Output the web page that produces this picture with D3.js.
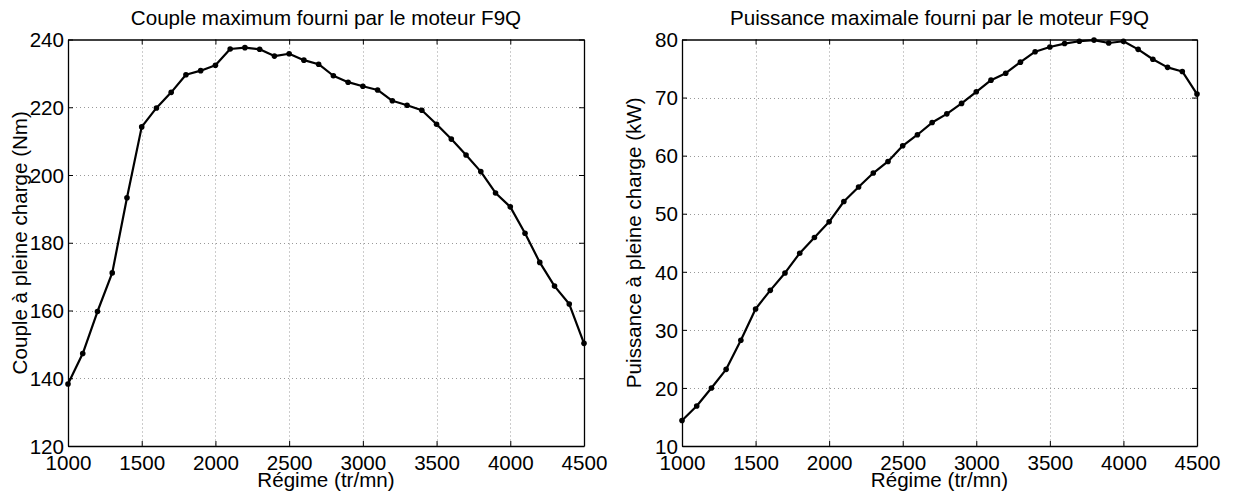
<!DOCTYPE html>
<html>
<head>
<meta charset="utf-8">
<script src="https://cdn.jsdelivr.net/npm/d3@7"></script>
<style>
  html, body { margin: 0; padding: 0; background: #fff; }
  svg { display: block; }
  text { font-family: "Liberation Sans", Arial, Helvetica, sans-serif; fill: #000; }
</style>
</head>
<body>
<svg id="chart" width="1234" height="494"></svg>
<script>
// ---- Data ----
const regime = [1000,1100,1200,1300,1400,1500,1600,1700,1800,1900,2000,2100,2200,2300,2400,2500,2600,2700,2800,2900,3000,3100,3200,3300,3400,3500,3600,3700,3800,3900,4000,4100,4200,4300,4400,4500];
const couple = [138.3,147.3,159.7,171.1,193.3,214.2,219.8,224.4,229.6,230.8,232.4,237.2,237.6,237.1,235.1,235.8,233.9,232.7,229.3,227.4,226.2,225.1,221.9,220.6,219.1,215.0,210.6,205.9,201.0,194.7,190.6,182.8,174.2,167.2,161.9,150.3];
const puissance = [14.4,16.9,20.0,23.2,28.2,33.6,36.8,39.8,43.2,45.9,48.6,52.1,54.6,57.0,59.0,61.7,63.6,65.7,67.2,69.0,71.0,73.0,74.2,76.1,77.9,78.7,79.3,79.7,79.9,79.4,79.7,78.3,76.6,75.2,74.5,70.6];
const xTicks = [1000,1500,2000,2500,3000,3500,4000,4500];
const coupleTicks = [120,140,160,180,200,220,240];
const puissanceTicks = [10,20,30,40,50,60,70,80];

const panels = [
  { title: "Couple maximum fourni par le moteur F9Q", ylabel: "Couple à pleine charge (Nm)",
    values: couple, yDomain: [120,240], yTicks: coupleTicks, x0: 68, x1: 584, ylabX: 26.5 },
  { title: "Puissance maximale fourni par le moteur F9Q", ylabel: "Puissance à pleine charge (kW)",
    values: puissance, yDomain: [10,80], yTicks: puissanceTicks, x0: 682, x1: 1197, ylabX: 641 }
];

const svg = d3.select("#chart");
const yTop = 39.5, yBottom = 446;
const fs = 20.6;

panels.forEach(p => {
  const x = d3.scaleLinear().domain([1000,4500]).range([p.x0, p.x1]);
  const y = d3.scaleLinear().domain(p.yDomain).range([yBottom, yTop]);
  const g = svg.append("g");

  // grid
  g.append("g").selectAll("line").data(xTicks.slice(1, -1)).join("line")
    .attr("x1", d => Math.round(x(d)) + 0.5).attr("x2", d => Math.round(x(d)) + 0.5)
    .attr("y1", yTop).attr("y2", yBottom)
    .attr("stroke", "#999").attr("stroke-width", 1).attr("stroke-dasharray", "1,3");
  g.append("g").selectAll("line").data(p.yTicks.slice(1, -1)).join("line")
    .attr("y1", d => Math.round(y(d)) + 0.5).attr("y2", d => Math.round(y(d)) + 0.5)
    .attr("x1", p.x0).attr("x2", p.x1)
    .attr("stroke", "#999").attr("stroke-width", 1).attr("stroke-dasharray", "1,3");

  // axes (ticks inward) via d3 axes
  const axB = d3.axisBottom(x).tickValues(xTicks).tickSizeInner(-5).tickSizeOuter(0).tickFormat(d3.format("d"));
  const axT = d3.axisTop(x).tickValues(xTicks).tickSizeInner(-5).tickSizeOuter(0).tickFormat("");
  const axL = d3.axisLeft(y).tickValues(p.yTicks).tickSizeInner(-5).tickSizeOuter(0).tickFormat(d3.format("d"));
  const axR = d3.axisRight(y).tickValues(p.yTicks).tickSizeInner(-5).tickSizeOuter(0).tickFormat("");

  const gb = g.append("g").attr("transform", `translate(0,${yBottom})`).call(axB);
  const gt = g.append("g").attr("transform", `translate(0,${yTop})`).call(axT);
  const gl = g.append("g").attr("transform", `translate(${p.x0},0)`).call(axL);
  const gr = g.append("g").attr("transform", `translate(${p.x1},0)`).call(axR);

  [gb, gt, gl, gr].forEach(a => {
    a.select(".domain").attr("stroke", "#000").attr("stroke-width", 1.3);
    a.selectAll(".tick line").attr("stroke", "#000").attr("stroke-width", 1);
    a.selectAll("text").attr("font-size", fs).attr("font-family", "Liberation Sans, Arial, sans-serif").attr("fill", "#000");
  });
  gb.selectAll(".tick text").attr("dy", null).attr("y", 23.5);
  gl.selectAll(".tick text").attr("x", -4).attr("dy", "0.35em");

  // line + markers
  const line = d3.line().x((d, i) => x(regime[i])).y(d => y(d));
  g.append("path").datum(p.values).attr("d", line)
    .attr("fill", "none").attr("stroke", "#000").attr("stroke-width", 2.2).attr("stroke-linejoin", "round");
  g.append("g").selectAll("circle").data(p.values).join("circle")
    .attr("cx", (d, i) => x(regime[i])).attr("cy", d => y(d)).attr("r", 2.8).attr("fill", "#000");

  // title
  g.append("text").attr("x", (p.x0 + p.x1) / 2).attr("y", 25).attr("text-anchor", "middle")
    .attr("font-size", fs).text(p.title);
  // x label
  g.append("text").attr("x", (p.x0 + p.x1) / 2).attr("y", 487).attr("text-anchor", "middle")
    .attr("font-size", fs).text("Régime (tr/mn)");
  // y label
  g.append("text").attr("transform", `translate(${p.ylabX},${(yTop + yBottom) / 2}) rotate(-90)`)
    .attr("text-anchor", "middle").attr("font-size", fs).text(p.ylabel);
});
</script>
</body>
</html>
